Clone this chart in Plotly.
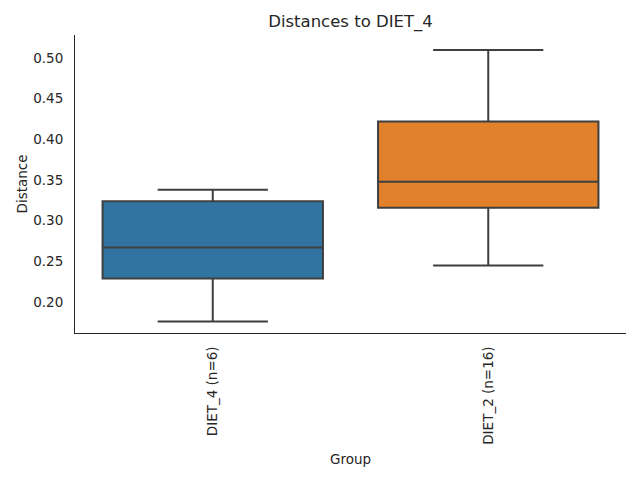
import plotly.graph_objects as go

# Box statistics (seaborn boxplot)
groups = ["DIET_4 (n=6)", "DIET_2 (n=16)"]
lower = [0.176, 0.245]
q1 = [0.229, 0.316]
median = [0.267, 0.348]
q3 = [0.324, 0.422]
upper = [0.338, 0.510]
box_colors = ["#3274a1", "#e1812c"]

fig = go.Figure()
for i, g in enumerate(groups):
    fig.add_trace(go.Box(
        x=[g],
        q1=[q1[i]], median=[median[i]], q3=[q3[i]],
        lowerfence=[lower[i]], upperfence=[upper[i]],
        fillcolor=box_colors[i],
        line=dict(color="#3f3f3f", width=2),
        width=0.8,
        whiskerwidth=0.5,
        boxpoints=False,
        name=g,
        showlegend=False,
    ))

# page body has an 8px margin, so margins are offset by that
fig.update_layout(
    width=640, height=480,
    margin=dict(l=67, r=22, t=27, b=155),
    paper_bgcolor="white", plot_bgcolor="white",
    font=dict(family="DejaVu Sans", size=13.5, color="#262626"),
    title=dict(text="Distances to DIET_4", x=0.5, xanchor="center",
               xref="paper", y=0.973, yanchor="middle",
               font=dict(size=16.5, color="#262626")),
    boxmode="overlay",
)
fig.update_xaxes(
    type="category", categoryorder="array", categoryarray=groups,
    range=[-0.5, 1.5], showline=True, linecolor="#262626", linewidth=1,
    showgrid=False, zeroline=False, ticks="", tickangle=-90,
    ticklabelstandoff=7, automargin=False,
    tickfont=dict(size=13.5),
    title=dict(text="Group", standoff=10, font=dict(size=13.5)),
)
fig.update_yaxes(
    range=[0.1619, 0.5283], showline=True, linecolor="#262626", linewidth=1,
    showgrid=False, zeroline=False, ticks="",
    tickvals=[0.2, 0.25, 0.3, 0.35, 0.4, 0.45, 0.5],
    tickformat=".2f", ticklabelstandoff=8, automargin=False,
    tickfont=dict(size=13.5),
    title=dict(text="Distance", standoff=2, font=dict(size=13.5)),
)

fig.write_html("out.html")
